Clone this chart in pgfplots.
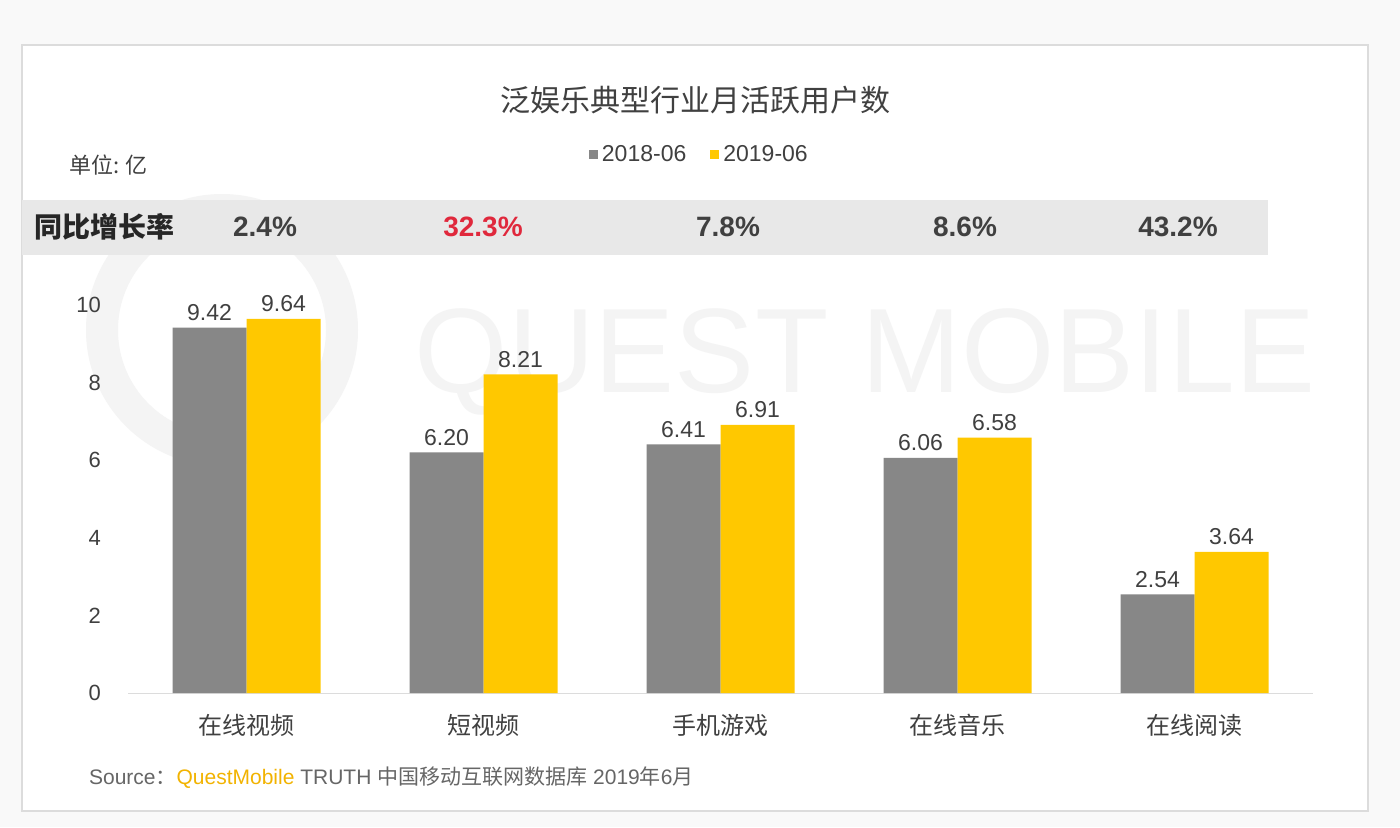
\documentclass[border=0pt]{standalone}
\usepackage{pgfplots}
\pgfplotsset{compat=1.18}
\usepackage{fontspec}
\setmainfont{Liberation Sans}
\newfontfamily\cjk{Noto Sans CJK SC}
\definecolor{qgray}{HTML}{878787}
\definecolor{qyellow}{HTML}{FFC800}
\definecolor{txt}{HTML}{404040}
\definecolor{band}{HTML}{E8E8E8}
\definecolor{qred}{HTML}{E0283C}
\definecolor{qorange}{HTML}{F2B300}
\definecolor{bg}{HTML}{F9F9F9}
\definecolor{frame}{HTML}{DCDCDC}
\definecolor{wm}{HTML}{F4F4F4}
\begin{document}
\begin{tikzpicture}[x=0.5pt,y=-0.5pt]
\fill[bg] (0,0) rectangle (1400,827);
\useasboundingbox (0,0) rectangle (1400,827);
\fill[white] (22,45) rectangle (1368,811);
\draw[frame, line width=1pt] (22,45) rectangle (1368,811);
% watermark
\draw[wm, line width=16pt] (222,330) circle (120);
\node[font=\fontsize{60}{60}\selectfont, text=wm] at (865,362) {QUEST MOBILE};
% growth band
\fill[band] (22,200) rectangle (1268,255);
\node[font=\cjk\bfseries\fontsize{14}{14}\selectfont, text=black!85, anchor=west] at (27,227) {同比增长率};
\node[font=\bfseries\fontsize{14}{14}\selectfont, text=txt] at (265,227) {2.4\%};
\node[font=\bfseries\fontsize{14}{14}\selectfont, text=qred] at (483,227) {32.3\%};
\node[font=\bfseries\fontsize{14}{14}\selectfont, text=txt] at (728,227) {7.8\%};
\node[font=\bfseries\fontsize{14}{14}\selectfont, text=txt] at (965,227) {8.6\%};
\node[font=\bfseries\fontsize{14}{14}\selectfont, text=txt] at (1178,227) {43.2\%};
% title and unit
\node[font=\cjk\fontsize{15}{15}\selectfont, text=txt] at (695,100) {泛娱乐典型行业月活跃用户数};
\node[font=\cjk\fontsize{11}{11}\selectfont, text=txt, anchor=west] at (62,165) {单位: 亿};
% source
\node[font=\fontsize{10.5}{10.5}\selectfont, text=black!60, anchor=west] at (82,778) {Source{\cjk ：}\textcolor{qorange}{QuestMobile} TRUTH {\cjk 中国移动互联网数据库} 2019{\cjk 年}6{\cjk 月}};
\coordinate (O) at (128,693);
\begin{axis}[
  at={(O)}, anchor=south west,
  scale only axis, width=592.5pt, height=194pt,
  xmin=-0.5, xmax=4.5, ymin=0, ymax=10,
  clip=false,
  ybar=0pt, bar width=37pt,
  axis lines=left,
  x axis line style={draw=frame, -},
  y axis line style={draw=none},
  major tick length=0pt,
  xtick={0,1,2,3,4},
  xticklabels={在线视频,短视频,手机游戏,在线音乐,在线阅读},
  xticklabel style={font=\cjk\fontsize{12}{12}\selectfont, text=txt, yshift=-7pt},
  ytick={0,2,4,6,8,10},
  yticklabel style={font=\fontsize{11}{11}\selectfont, text=txt, xshift=-10pt},
  /pgf/number format/assume math mode=true,
  nodes near coords={\pgfmathprintnumber[fixed,fixed zerofill,precision=2]{\pgfplotspointmeta}},
  every node near coord/.append style={font=\fontsize{11.5}{11.5}\selectfont, text=txt, /pgf/number format/assume math mode=true},
  legend style={at={(0.483,1.387)}, anchor=center, draw=none, fill=none,
    legend columns=2, font=\fontsize{11.5}{11.5}\selectfont, text=txt,
    /tikz/every even column/.append style={column sep=10pt},
    inner sep=0pt},
  legend image code/.code={\fill[#1] (0pt,-2.3pt) rectangle (4.5pt,2.3pt);},
]
\addplot[fill=qgray, draw=none] coordinates {(0,9.42) (1,6.20) (2,6.41) (3,6.06) (4,2.54)};
\addplot[fill=qyellow, draw=none] coordinates {(0,9.64) (1,8.21) (2,6.91) (3,6.58) (4,3.64)};
\legend{2018-06,2019-06}
\end{axis}
\end{tikzpicture}
\end{document}
